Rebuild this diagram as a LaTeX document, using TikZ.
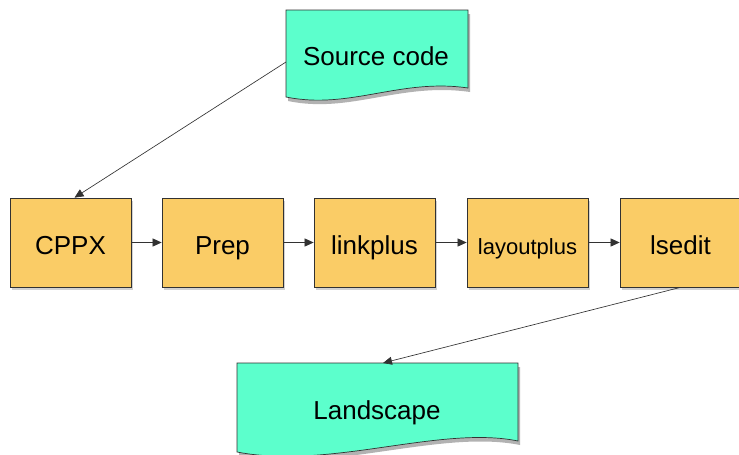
\documentclass[tikz,border=0pt]{standalone}
\usepackage{fontspec}
\setmainfont{Liberation Sans}
\usetikzlibrary{arrows.meta,shadows}
\definecolor{boxfill}{RGB}{250,204,102}
\definecolor{docfill}{RGB}{92,255,204}
\definecolor{edge}{RGB}{50,50,50}
\tikzset{
  stage/.style={draw=edge, line width=0.7pt, fill=boxfill, minimum width=121pt, minimum height=89pt, inner sep=0pt,
    text height=24pt, text depth=0pt,
    font=\fontsize{26}{30}\selectfont, drop shadow={shadow xshift=1.5pt, shadow yshift=-3pt, opacity=0.35}},
  docshape/.style={draw=edge, line width=0.7pt, fill=docfill},
  docshadow/.style={fill=black, opacity=0.3},
  doctext/.style={font=\fontsize{26}{30}\selectfont, inner sep=0pt, anchor=base},
  conn/.style={draw=edge, line width=0.65pt, -{Triangle[length=9pt,width=8pt]}},
}
\begin{document}
\begin{tikzpicture}[x=1pt,y=-1pt]
\useasboundingbox[fill=white] (0,0) rectangle (739,455);
% Source code document
\path[docshadow] (288,14) -- (470,14) -- (470,92) .. controls (400,82) and (350,114) .. (288,101) -- cycle;
\path[docshape] (286,10) -- (468,10) -- (468,88) .. controls (400,78) and (350,110) .. (286,97) -- cycle;
\node[doctext] (src) at (376,65) {Source code};
\coordinate (srcL) at (286,62);
% Landscape document
\path[docshadow] (239,367) -- (520,367) -- (520,445) .. controls (440,429) and (330,474) .. (239,456) -- cycle;
\path[docshape] (237,363) -- (518,363) -- (518,441) .. controls (440,425) and (330,470) .. (237,452) -- cycle;
\node[doctext] (land) at (377,419) {Landscape};
\coordinate (landT) at (383,363);
% Stages
\node[stage] (cppx) at (70.5,242.5) {CPPX};
\node[stage] (prep) at (222.5,242.5) {Prep};
\node[stage] (link) at (374.5,242.5) {linkplus};
\node[stage, font=\fontsize{22}{26}\selectfont] (layout) at (527.5,242.5) {layoutplus};
\node[stage] (lsedit) at (680.5,242.5) {lsedit};
% Connectors
\draw[conn] (srcL) -- ([xshift=4pt]cppx.north);
\draw[conn] (cppx) -- (prep);
\draw[conn] (prep) -- (link);
\draw[conn] (link) -- (layout);
\draw[conn] (layout) -- (lsedit);
\draw[conn] (lsedit.south) -- (landT);
\end{tikzpicture}
\end{document}
